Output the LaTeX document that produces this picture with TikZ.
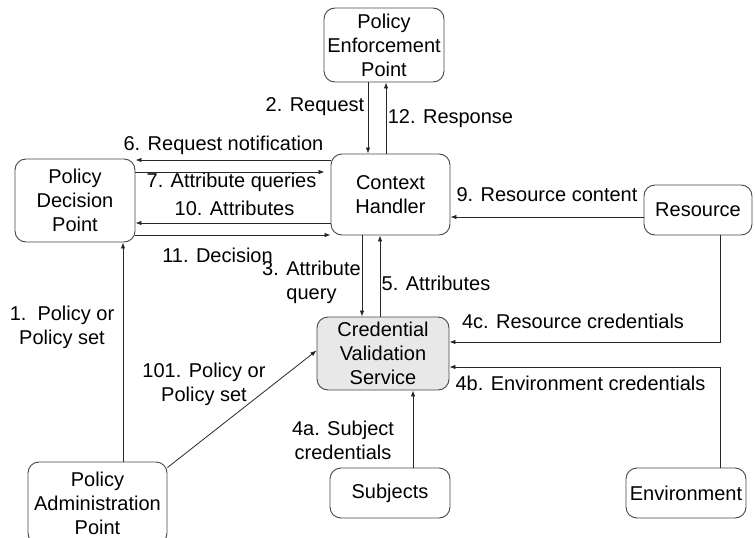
\documentclass[tikz,border=0pt]{standalone}
\usepackage{fontspec}
\setmainfont{Liberation Sans}
\usepackage{tikz}
\usetikzlibrary{calc}
\usetikzlibrary{arrows.meta}
\usetikzlibrary{positioning}
\definecolor{boxline}{RGB}{70, 70, 70}
\definecolor{cvsfill}{RGB}{232, 232, 232}
\tikzset{
    blk/.style={draw=boxline, line width=0.9pt, rounded corners=11pt, align=center, inner sep=2pt,
                font=\fontsize{20}{24}\selectfont},
    lbl/.style={align=center, inner sep=0pt, font=\fontsize{20}{24}\selectfont},
    flow/.style={-{Latex[length=6pt, width=4.5pt]}, draw=black!85, line width=0.8pt}
}

\begin{document}
\begin{tikzpicture}[x=1pt, y=-1pt]
            % Frame to fix the size
            \useasboundingbox                                                 (0, 0) rectangle (755, 538);
            % Components
            \node[blk, minimum width=120pt, minimum height=74pt] (pep)  at (384.0,  45.0) {Policy\\Enforcement\\Point};
            \node[blk, minimum width=119pt, minimum height=81pt] (ch)   at (390.5, 194.5) {Context\\Handler};
            \node[blk, minimum width=120pt, minimum height=83pt] (pdp)  at ( 75.0, 200.5) {Policy\\Decision\\Point};
            \node[blk, minimum width=108pt, minimum height=50pt] (res)  at (698.0, 210.0) {Resource};
            \node[blk, minimum width=132pt, minimum height=73pt, fill=cvsfill] (cvs) at (383.0, 353.5) {Credential\\Validation\\Service};
            \node[blk, minimum width=120pt, minimum height=50pt] (subj) at (390.0, 493.0) {Subjects};
            \node[blk, minimum width=120pt, minimum height=50pt] (env)  at (686.0, 493.0) {Environment};
            \node[blk, minimum width=139pt, minimum height=82pt] (pap)  at ( 97.5, 503.0) {Policy\\Administration\\Point};
            % Rows and columns of the connectors
            \coordinate (c1)  at (123, 0);
            \coordinate (c2)  at (368, 0);
            \coordinate (c12) at (386, 0);
            \coordinate (c3)  at (362, 0);
            \coordinate (c5)  at (380, 0);
            \coordinate (c4a) at (413, 0);
            \coordinate (c4)  at (720, 0);
            \coordinate (r6)  at (0, 160);
            \coordinate (r7)  at (0, 172);
            \coordinate (r9)  at (0, 217);
            \coordinate (r10) at (0, 223);
            \coordinate (r11) at (0, 235);
            \coordinate (r4c) at (0, 342);
            \coordinate (r4b) at (0, 367);
            % PEP <-> Context Handler
            \draw[flow] (pep.south -| c2)  -- (ch.north -| c2);
            \draw[flow] (ch.north -| c12)  -- (pep.south -| c12);
            % PDP <-> Context Handler
            \draw[flow] (ch.west |- r6)    -- (pdp.east |- r6);
            \draw[flow] (pdp.east |- r7)   -- ([xshift=-6pt]ch.west |- r7);
            \draw[flow] (ch.west |- r10)   -- (pdp.east |- r10);
            \draw[flow] (pdp.east |- r11)  -- (ch.west |- r11);
            \draw[flow] (res.west |- r9)   -- (ch.east |- r9);
            % Context Handler <-> CVS
            \draw[flow] (ch.south -| c3)   -- (cvs.north -| c3);
            \draw[flow] (cvs.north -| c5)  -- (ch.south -| c5);
            % Credentials
            \draw[flow] (res.south -| c4)  |- (cvs.east |- r4c);
            \draw[flow] (env.north -| c4)  |- (cvs.east |- r4b);
            \draw[flow] (subj.north -| c4a) -- (cvs.south -| c4a);
            % Policies
            \draw[flow] (pap.north -| c1)  -- (pdp.south -| c1);
            \draw[flow] ([yshift=-6pt]pap.north east) -- ([yshift=3pt]cvs.west);
            % Labels
            \node[lbl] (l2)   at (315.0, 107.0) {2. Request};
            \node[lbl] (l12)  at (450.5, 119.0) {12. Response};
            \node[lbl] (l6)   at (223.5, 145.0) {6. Request notification};
            \node[lbl] (l7)   at (231.5, 182.0) {7. Attribute queries};
            \node[lbl] (l10)  at (234.5, 208.0) {10. Attributes};
            \node[lbl] (l11)  at (217.5, 255.0) {11. Decision};
            \node[lbl] (l9)   at (547.0, 195.0) {9. Resource content};
            \node[lbl] (l3)   at (311.5, 282.5) {3. Attribute\\query};
            \node[lbl] (l5)   at (436.0, 283.0) {5. Attributes};
            \node[lbl] (l4c)  at (573.0, 321.0) {4c. Resource credentials};
            \node[lbl] (l4b)  at (580.5, 383.0) {4b. Environment credentials};
            \node[lbl] (l4a)  at (343.0, 440.0) {4a. Subject\\credentials};
            \node[lbl] (l1)   at ( 62.0, 327.5) {1.\ \ Policy or\\Policy set};
            \node[lbl] (l101) at (204.0, 384.5) {101. Policy or\\Policy set};
\end{tikzpicture}
\end{document}
